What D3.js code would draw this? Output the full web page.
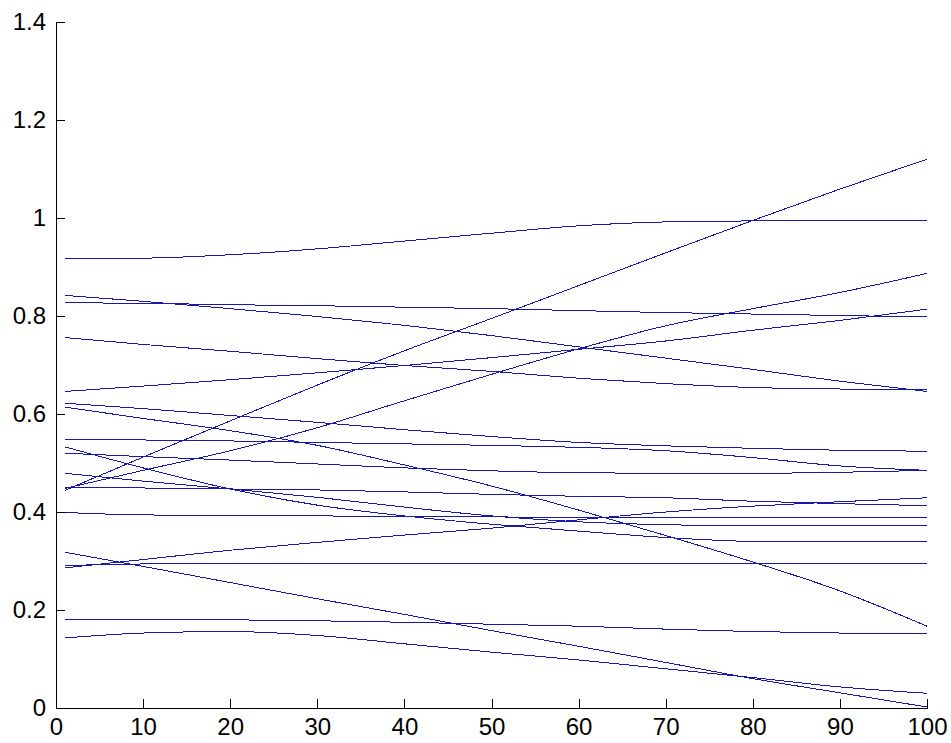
<!DOCTYPE html>
<meta charset="utf-8">
<style>
  body { margin: 0; background: #fff; }
</style>

<!-- Load d3.js -->
<script src="https://d3js.org/d3.v7.min.js"></script>

<div id="chart"></div>

<script>

    var xs = [1, 10, 20, 30, 40, 50, 60, 70, 80, 90, 100];

    // one array per curve, values at the xs above
    var s1  = [0.917, 0.918, 0.925, 0.937, 0.953, 0.969, 0.984, 0.992, 0.994, 0.994, 0.994];
    var s2  = [0.842, 0.830, 0.815, 0.799, 0.781, 0.760, 0.737, 0.714, 0.691, 0.667, 0.646];
    var s3  = [0.827, 0.826, 0.823, 0.821, 0.818, 0.815, 0.811, 0.807, 0.804, 0.801, 0.798];
    var s4  = [0.756, 0.742, 0.728, 0.713, 0.699, 0.687, 0.673, 0.662, 0.654, 0.651, 0.650];
    var s5  = [0.646, 0.657, 0.670, 0.684, 0.699, 0.715, 0.732, 0.749, 0.771, 0.791, 0.814];
    var s6  = [0.444, 0.512, 0.586, 0.659, 0.729, 0.795, 0.862, 0.929, 0.995, 1.059, 1.120];
    var s7  = [0.448, 0.485, 0.525, 0.572, 0.627, 0.681, 0.733, 0.780, 0.815, 0.848, 0.887];
    var s8  = [0.622, 0.611, 0.597, 0.583, 0.568, 0.554, 0.542, 0.535, 0.530, 0.526, 0.524];
    var s9  = [0.614, 0.591, 0.566, 0.536, 0.496, 0.453, 0.404, 0.352, 0.298, 0.239, 0.167];
    var s10 = [0.548, 0.547, 0.545, 0.542, 0.539, 0.536, 0.532, 0.525, 0.511, 0.494, 0.485];
    var s11 = [0.520, 0.513, 0.506, 0.498, 0.490, 0.484, 0.480, 0.479, 0.479, 0.481, 0.485];
    var s12 = [0.533, 0.490, 0.447, 0.414, 0.392, 0.375, 0.361, 0.348, 0.340, 0.339, 0.339];
    var s13 = [0.479, 0.463, 0.447, 0.430, 0.410, 0.392, 0.380, 0.374, 0.372, 0.372, 0.372];
    var s14 = [0.450, 0.449, 0.447, 0.445, 0.441, 0.436, 0.432, 0.429, 0.422, 0.417, 0.413];
    var s15 = [0.286, 0.303, 0.322, 0.338, 0.353, 0.367, 0.384, 0.400, 0.412, 0.421, 0.429];
    var s16 = [0.291, 0.294, 0.295, 0.295, 0.295, 0.295, 0.295, 0.295, 0.295, 0.295, 0.295];
    var s17 = [0.399, 0.394, 0.393, 0.392, 0.391, 0.390, 0.389, 0.389, 0.389, 0.389, 0.389];
    var s18 = [0.318, 0.289, 0.256, 0.223, 0.191, 0.158, 0.126, 0.093, 0.060, 0.031, 0.002];
    var s19 = [0.143, 0.153, 0.156, 0.148, 0.131, 0.114, 0.098, 0.080, 0.062, 0.043, 0.030];
    var s20 = [0.181, 0.181, 0.180, 0.178, 0.175, 0.171, 0.167, 0.161, 0.156, 0.153, 0.152];

    var series = [s1, s2, s3, s4, s5, s6, s7, s8, s9, s10,
                  s11, s12, s13, s14, s15, s16, s17, s18, s19, s20];

    // tick labels
    var xTicks = [0, 10, 20, 30, 40, 50, 60, 70, 80, 90, 100];
    var yTicks = [0, 0.2, 0.4, 0.6, 0.8, 1, 1.2, 1.4];

    // set the dimensions and margins of the graph
    var margin = {top: 22, right: 24, bottom: 35, left: 56},
        width = 951 - margin.left - margin.right,
        height = 743 - margin.top - margin.bottom;

    var svg = d3.select("#chart")
      .append("svg")
        .attr("width", 951)
        .attr("height", 743)
      .append("g")
        .attr("transform", "translate(" + margin.left + "," + margin.top + ")");

    var x = d3.scaleLinear()
      .domain([0, 100])
      .range([0, width]);

    var y = d3.scaleLinear()
      .domain([0, 1.4])
      .range([height, 0]);

    // the curves
    var line = d3.line()
      .x(function(d, i) { return x(xs[i]); })
      .y(function(d) { return y(d); })
      .curve(d3.curveMonotoneX);

    svg.append("g")
      .selectAll("path")
      .data(series)
      .enter()
      .append("path")
        .attr("d", line)
        .attr("fill", "none")
        .attr("stroke", "#1818b0")
        .attr("stroke-width", 1)
        .attr("shape-rendering", "crispEdges");

    // axes, ticks pointing inward like matlab
    var xAxis = svg.append("g")
      .attr("transform", "translate(0," + height + ")")
      .call(d3.axisBottom(x)
        .tickValues(xTicks)
        .tickFormat(d3.format("d"))
        .tickSizeInner(-9)
        .tickSizeOuter(0)
        .tickPadding(10));

    var yAxis = svg.append("g")
      .call(d3.axisLeft(y)
        .tickValues(yTicks)
        .tickFormat(function(d) { return d3.format("~g")(d); })
        .tickSizeInner(-9)
        .tickSizeOuter(0)
        .tickPadding(10));

    svg.selectAll(".domain, .tick line")
      .attr("stroke", "#000")
      .attr("shape-rendering", "crispEdges");

    svg.selectAll(".tick text")
      .attr("fill", "#000")
      .style("font-family", "'Liberation Sans', Arial, sans-serif")
      .style("font-size", "24px");

</script>
